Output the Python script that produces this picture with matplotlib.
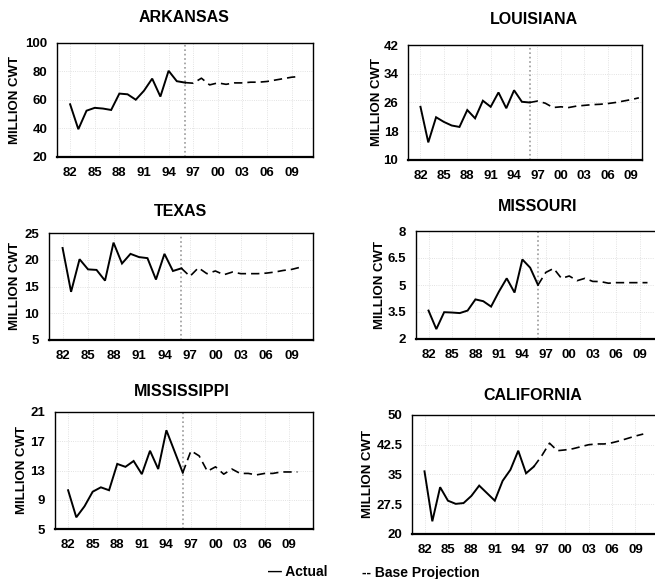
import matplotlib
matplotlib.use("Agg")
import matplotlib.pyplot as plt
import numpy as np

plt.rcParams['font.family'] = ['Liberation Sans', 'DejaVu Sans']
plt.rcParams['font.weight'] = 'bold'

# years
actual_years = list(range(1982, 1997))
proj_years = list(range(1996, 2011))
tick_years = [1982, 1985, 1988, 1991, 1994, 1997, 2000, 2003, 2006, 2009]
tick_labels = ['82', '85', '88', '91', '94', '97', '00', '03', '06', '09']

# million cwt
arkansas_actual = [57, 39.5, 52.5, 54.5, 54, 53, 64.5, 64, 60.2, 66.5, 75, 62.4, 80.5, 73.2, 72.2]
arkansas_proj = [72.2, 71.8, 75.3, 70.6, 72.0, 71.0, 72.0, 72.0, 72.5, 72.5, 73.0, 74.0, 75.0, 76.0, 76.5]

louisiana_actual = [24.8, 14.9, 21.9, 20.6, 19.6, 19.2, 23.9, 21.6, 26.5, 24.8, 28.8, 24.4, 29.4, 26.2, 26.0]
louisiana_proj = [26.0, 26.4, 25.8, 24.6, 24.8, 24.6, 25.0, 25.2, 25.4, 25.5, 25.7, 26.0, 26.4, 26.8, 27.3]

texas_actual = [22.2, 14.0, 20.1, 18.2, 18.1, 16.1, 23.2, 19.3, 21.1, 20.5, 20.3, 16.3, 21.1, 17.9, 18.4]
texas_proj = [18.4, 16.9, 18.5, 17.4, 17.9, 17.2, 17.7, 17.4, 17.4, 17.4, 17.5, 17.7, 18.0, 18.2, 18.6]

missouri_actual = [3.58, 2.55, 3.49, 3.47, 3.44, 3.58, 4.2, 4.1, 3.8, 4.63, 5.37, 4.58, 6.42, 5.96, 5.0]
missouri_proj = [5.0, 5.7, 5.92, 5.37, 5.5, 5.24, 5.37, 5.2, 5.19, 5.1, 5.13, 5.13, 5.13, 5.13, 5.13]

mississippi_actual = [10.3, 6.6, 8.1, 10.1, 10.7, 10.3, 13.9, 13.5, 14.3, 12.5, 15.7, 13.2, 18.5, 15.6, 12.7]
mississippi_proj = [12.7, 15.7, 15.0, 12.9, 13.5, 12.5, 13.2, 12.6, 12.6, 12.4, 12.6, 12.6, 12.8, 12.8, 12.8]

california_actual = [35.8, 23.2, 31.8, 28.4, 27.6, 27.8, 29.6, 32.2, 30.3, 28.4, 33.4, 36.2, 41.0, 35.3, 37.0]
california_proj = [37.0, 39.7, 42.9, 41.0, 41.2, 41.5, 42.0, 42.5, 42.7, 42.7, 43.0, 43.5, 44.1, 44.7, 45.2]

W, H = 655, 579

# name, actual, projection, yticks, ytick labels,
# axes box in pixels (left, top, right, bottom), x max, title xy, ylabel x, divider
panels = [
    ('ARKANSAS', arkansas_actual, arkansas_proj, [20, 40, 60, 80, 100], ['20', '40', '60', '80', '100'],
     (57, 43, 313, 157), 2011.6, (184, 17), 15, True),
    ('LOUISIANA', louisiana_actual, louisiana_proj, [10, 18, 26, 34, 42], ['10', '18', '26', '34', '42'],
     (408, 45, 642, 160), 2010.4, (534, 19), 377, True),
    ('TEXAS', texas_actual, texas_proj, [5, 10, 15, 20, 25], ['5', '10', '15', '20', '25'],
     (49, 233, 313, 340), 2011.5, (180, 212), 15, True),
    ('MISSOURI', missouri_actual, missouri_proj, [2, 3.5, 5, 6.5, 8], ['2', '3.5', '5', '6.5', '8'],
     (416, 231, 660, 339), 2011.6, (538, 207), 380, True),
    ('MISSISSIPPI', mississippi_actual, mississippi_proj, [5, 9, 13, 17, 21], ['5', '9', '13', '17', '21'],
     (55, 412, 313, 529), 2011.9, (182, 391), 22, True),
    ('CALIFORNIA', california_actual, california_proj, [20, 27.5, 35, 42.5, 50], ['20', '27.5', '35', '42.5', '50'],
     (412, 415, 662, 534), 2012.4, (533, 396), 368, False),
]

fig = plt.figure(figsize=(W / 100, H / 100), dpi=100)

for (name, act, proj, yt, ytl, box, xmax, tpos, ylx, divider) in panels:
    l, t, r, b = box
    ax = fig.add_axes([l / W, 1 - b / H, (r - l) / W, (b - t) / H])
    ax.plot(actual_years, act, color='black', linewidth=1.4, solid_joinstyle='miter')
    ax.plot(proj_years, proj, color='black', linewidth=1.2, linestyle=(0, (5, 3)))
    if divider:
        ax.axvline(1996, color='0.6', linestyle=':', linewidth=1.2, zorder=0)
    ax.set_xlim(1980.4, xmax)
    ax.set_ylim(yt[0], yt[-1])
    ax.set_xticks(tick_years)
    ax.set_xticklabels(tick_labels)
    ax.set_yticks(yt)
    ax.set_yticklabels(ytl)
    ax.tick_params(length=0, labelsize=9.5, pad=7)
    for lab in ax.get_xticklabels() + ax.get_yticklabels():
        lab.set_fontweight('bold')
    ax.grid(color='0.85', linestyle=':', linewidth=0.6)
    ax.set_axisbelow(True)
    for side in ['top', 'right', 'left']:
        ax.spines[side].set_linewidth(1.0)
    ax.spines['bottom'].set_linewidth(1.6)

    fig.text(tpos[0] / W, 1 - tpos[1] / H, name, ha='center', va='center',
             fontsize=11.5, fontweight='bold')
    fig.text(ylx / W, 1 - ((t + b) / 2) / H, 'MILLION CWT', rotation=90,
             ha='center', va='center', fontsize=9.5, fontweight='bold')

fig.text(268 / W, 1 - 572 / H, '\u2014 Actual', ha='left', va='center',
         fontsize=10, fontweight='bold')
fig.text(362 / W, 1 - 573 / H, '-- Base Projection', ha='left', va='center',
         fontsize=10, fontweight='bold')

fig.savefig('out.png', dpi=100)
